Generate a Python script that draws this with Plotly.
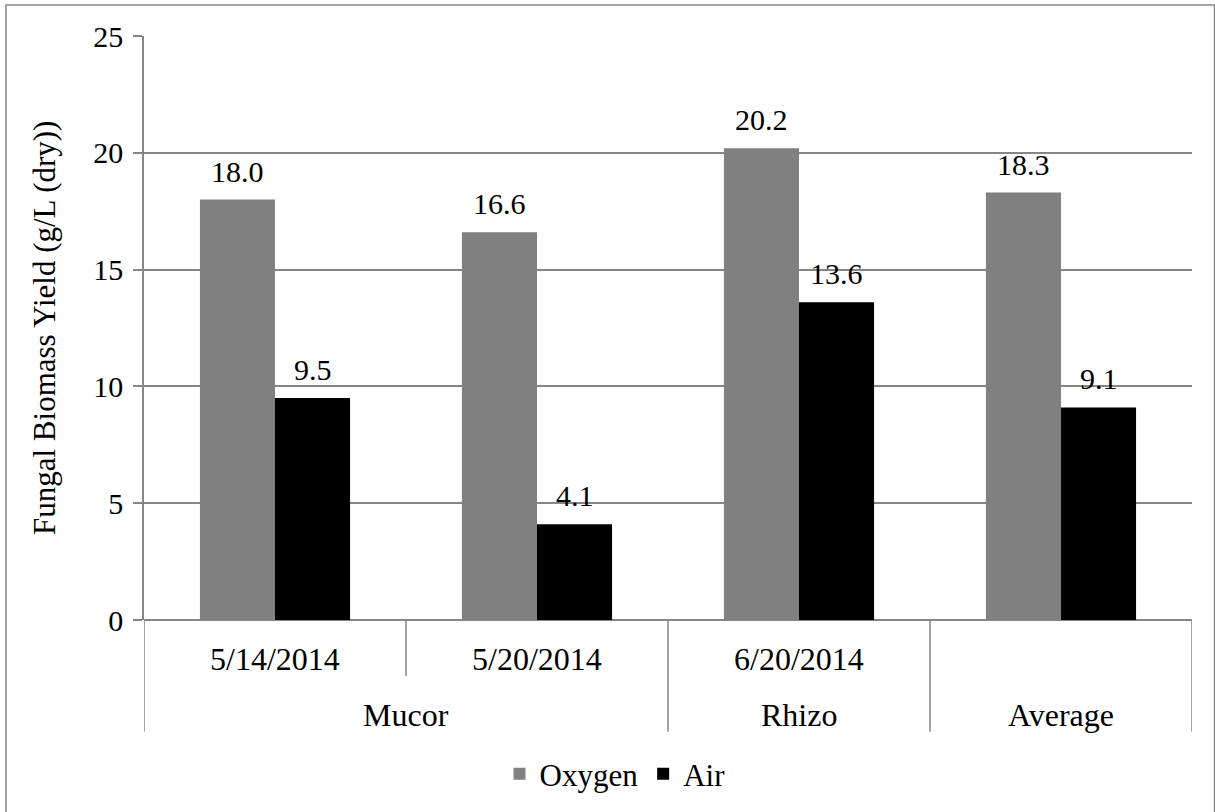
import plotly.graph_objects as go

# chart data
groups = ["Mucor", "Mucor", "Rhizo", "Average"]
dates = ["5/14/2014", "5/20/2014", "6/20/2014", ""]
oxygen = [18.0, 16.6, 20.2, 18.3]
air = [9.5, 4.1, 13.6, 9.1]
y_ticks = [0, 5, 10, 15, 20, 25]

FONT = "'Liberation Serif', 'Times New Roman', serif"
GRID = "#868686"
BAR_GAP = 0.427

W, H = 1215, 812
L, R, T, B = 144, 23, 36, 191
plot_h = H - T - B


def py(px_y):
    """pixel row -> paper y"""
    return (H - B - px_y) / plot_h


def pxx(px_x):
    return (px_x - L) / (W - L - R)


idx = list(range(len(dates)))

fig = go.Figure()
fig.add_trace(go.Bar(x=idx, y=oxygen, name="Oxygen", marker=dict(color="#808080", line=dict(width=0))))
fig.add_trace(go.Bar(x=idx, y=air, name="Air", marker=dict(color="#000000", line=dict(width=0))))

# value labels above bars
half = (1 - BAR_GAP) / 4
annotations = []
for i in idx:
    for vals, off in ((oxygen, -half), (air, half)):
        annotations.append(dict(x=i + off, y=vals[i], xref="x", yref="y", text=f"{vals[i]:.1f}",
                                showarrow=False, yanchor="bottom", yshift=10,
                                font=dict(size=30, color="black", family=FONT)))

# category labels (two levels)
for i, d in enumerate(dates):
    if d:
        annotations.append(dict(x=i, y=py(660), xref="x", yref="paper", text=d, showarrow=False,
                                yanchor="middle", font=dict(size=32, color="black", family=FONT)))
group_names = []
for g in groups:
    if g not in group_names:
        group_names.append(g)
for g in group_names:
    members = [i for i, gg in enumerate(groups) if gg == g]
    annotations.append(dict(x=sum(members) / len(members), y=py(716), xref="x", yref="paper", text=g,
                            showarrow=False, yanchor="middle",
                            font=dict(size=32, color="black", family=FONT)))

# y-axis title
annotations.append(dict(x=pxx(44), y=0.5, xref="paper", yref="paper", text="Fungal Biomass Yield (g/L (dry))",
                        textangle=-90, showarrow=False, xanchor="center", yanchor="middle",
                        font=dict(size=31, color="black", family=FONT)))

# divider lines between categories
shapes = []
for k in range(len(dates) + 1):
    xpos = k - 0.5
    if 0 < k < len(dates) and groups[k - 1] == groups[k]:
        bottom = py(677)
    else:
        bottom = py(733)
    shapes.append(dict(type="line", xref="x", yref="paper", x0=xpos, x1=xpos, y0=0, y1=bottom,
                       line=dict(color=GRID, width=1.5)))

# outer chart border
shapes.append(dict(type="rect", xref="paper", yref="paper", x0=pxx(6), x1=pxx(1214.5),
                   y0=py(815), y1=py(5), line=dict(color=GRID, width=1.5), layer="below"))

fig.update_layout(
    width=W, height=H,
    margin=dict(l=L, r=R, t=T, b=B),
    paper_bgcolor="white", plot_bgcolor="white",
    barmode="group", bargap=BAR_GAP, bargroupgap=0,
    font=dict(family=FONT, size=30, color="black"),
    showlegend=True,
    legend=dict(orientation="h", x=pxx(615), y=py(774), xanchor="center", yanchor="middle",
                font=dict(size=31, family=FONT), itemwidth=30, traceorder="normal"),
    annotations=annotations,
    shapes=shapes,
)
fig.update_xaxes(range=[-0.5, len(dates) - 0.5], showticklabels=False, showgrid=False,
                 zeroline=False, showline=False, ticks="")
fig.update_yaxes(range=[0, 25], tickvals=y_ticks, showgrid=True, gridcolor=GRID, gridwidth=1.5,
                 zeroline=True, zerolinecolor=GRID, zerolinewidth=1.5,
                 showline=True, linecolor=GRID, linewidth=1.5,
                 ticks="outside", ticklen=9, tickcolor=GRID, tickwidth=1.5,
                 tickfont=dict(size=30, family=FONT, color="black"), ticklabelstandoff=4)

# drop the default page margin so the figure sits at the window origin
fig.write_html("out.html", config={"displayModeBar": False},
               post_script="document.body.style.margin='0';")
